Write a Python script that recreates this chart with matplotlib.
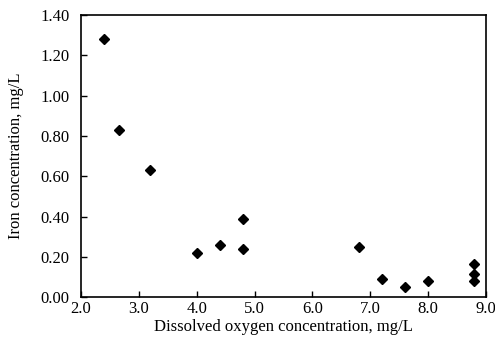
import matplotlib
matplotlib.use("Agg")
import matplotlib.pyplot as plt

dissolved_oxygen = [2.4, 2.65, 3.2, 4.0, 4.4, 4.8, 4.8, 6.8, 7.2, 7.6, 8.0, 8.8, 8.8, 8.8]
iron = [1.28, 0.83, 0.63, 0.22, 0.26, 0.39, 0.24, 0.25, 0.09, 0.05, 0.08, 0.165, 0.115, 0.08]

x_ticks = [2.0, 3.0, 4.0, 5.0, 6.0, 7.0, 8.0, 9.0]
y_ticks = [0.0, 0.2, 0.4, 0.6, 0.8, 1.0, 1.2, 1.4]

plt.rcParams['font.family'] = ['Liberation Serif', 'DejaVu Serif']
fig = plt.figure(figsize=(4.95, 3.52), dpi=100)
ax = fig.add_axes([0.1636, 0.156, 0.818, 0.801])

ax.plot(dissolved_oxygen, iron, linestyle='none', marker='D', markersize=5,
        color='black')

ax.set_xlim(2.0, 9.0)
ax.set_ylim(0.0, 1.4)
ax.set_xticks(x_ticks)
ax.set_xticklabels([f"{v:.1f}" for v in x_ticks])
ax.set_yticks(y_ticks)
ax.set_yticklabels([f"{v:.2f}" for v in y_ticks])
ax.tick_params(direction='in', length=4, width=1, labelsize=12, colors='black')
ax.tick_params(axis='y', pad=8)
ax.tick_params(axis='x', pad=3)
for s in ax.spines.values():
    s.set_linewidth(1.2)
    s.set_color('black')

ax.set_xlabel("Dissolved oxygen concentration, mg/L", fontsize=12, labelpad=1)
ax.set_ylabel("Iron concentration, mg/L", fontsize=12, labelpad=12)

fig.savefig("out.png", dpi=100)
